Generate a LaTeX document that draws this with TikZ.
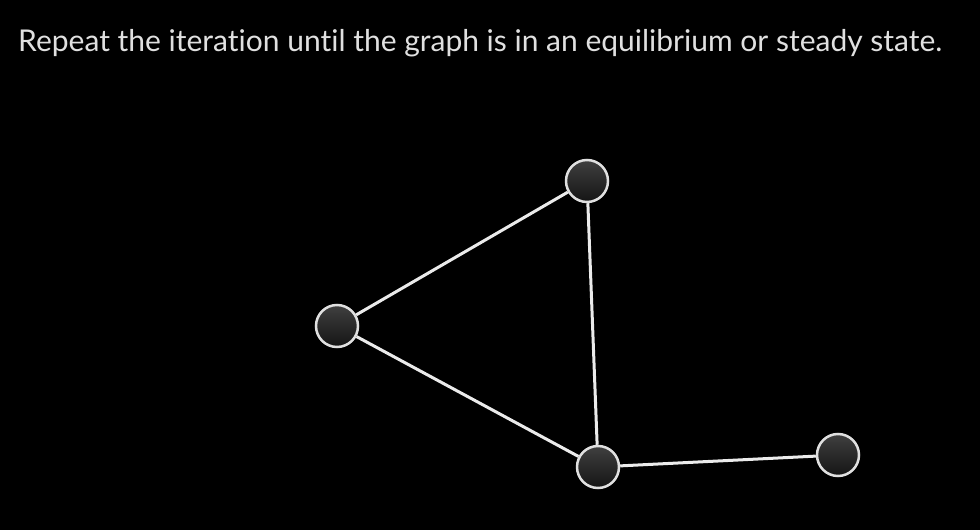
\documentclass[tikz,border=0pt]{standalone}
\usepackage{fontspec}
\setmainfont[Ligatures=NoCommon]{Lato}
\begin{document}
\begin{tikzpicture}[x=1pt,y=1pt,
		vertex/.style={circle, minimum size=42pt, inner sep=0pt,
			top color=black!75, bottom color=black!92, draw=black!12, line width=2.5pt},
		edge/.style={draw=black!8, line width=3pt}]
		\fill[black] (0,0) rectangle (980,530);
		\node[anchor=base west, inner sep=0pt, text=black!12, font=\fontsize{30}{36}\selectfont] (caption) at (18,478)
			{Repeat the iteration until the graph is in an equilibrium or steady state.};
		\node[vertex] (top) at (587,349) {};
		\node[vertex] (left) at (337,204) {};
		\node[vertex] (bottom) at (598,63) {};
		\node[vertex] (right) at (838,75) {};
		\draw[edge] (left) -- (top);
		\draw[edge] (top) -- (bottom);
		\draw[edge] (left) -- (bottom);
		\draw[edge] (bottom) -- (right);
	\end{tikzpicture}
\end{document}
